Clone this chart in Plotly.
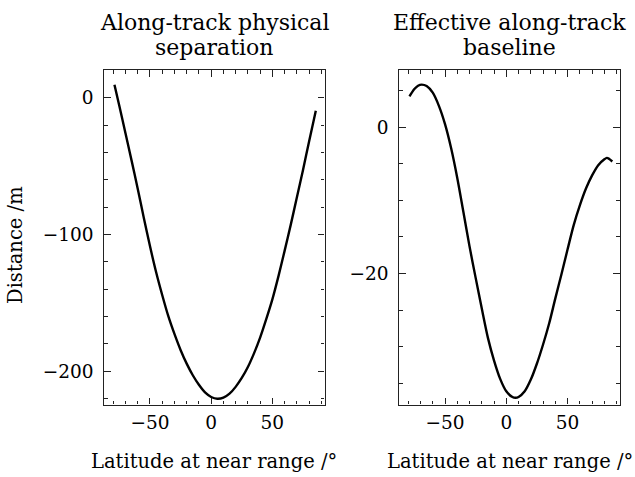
import plotly.graph_objects as go

# Latitude at near range (deg) and along-track physical separation (m)
lat_phys = [-79, -75, -70, -65, -60, -55, -50, -45, -40, -35, -30, -25, -20, -15,
            -10, -5, 0, 5, 10, 15, 20, 25, 30, 35, 40, 45, 50, 55, 60, 65, 70, 75,
            80, 85.5]
sep_phys = [9.5, -6, -26, -46, -66.5, -88, -108.5, -127.5, -144.3, -159.8, -172.8,
            -184.5, -194.5, -203, -210, -215.6, -218.9, -220.2, -219.4, -216.5,
            -211.5, -205, -197, -187, -175.5, -162, -147.5, -130.5, -112, -93,
            -73, -53, -32, -9.5]

# Latitude at near range (deg) and effective along-track baseline (m)
lat_eff = [-79, -75, -72, -69, -65, -60, -55, -50, -45, -40, -35, -30, -25, -20,
           -15, -10, -5, 0, 5, 7.5, 10, 15, 20, 25, 30, 35, 40, 45, 50, 55, 60, 65,
           70, 75, 80, 82, 84, 86.5]
base_eff = [4.2, 5.2, 5.65, 5.8, 5.6, 4.7, 2.9, 0.4, -2.9, -6.95, -11.6, -16.3,
            -20.6, -24.8, -28.8, -31.9, -34.4, -36.1, -36.88, -36.98, -36.88,
            -36.1, -34.5, -32.3, -29.7, -26.8, -23.4, -20.1, -16.7, -13.4, -10.7,
            -8.4, -6.6, -5.2, -4.4, -4.2, -4.35, -4.7]

titles = [["Along-track physical", "separation"],
          ["Effective along-track", "baseline"]]
x_label = "Latitude at near range /°"
y_label = "Distance /m"

W, H = 635, 477
FONT = "DejaVu Serif"
TICK_FS = 18.5
LABEL_FS = 19.5
TITLE_FS = 22

fig = go.Figure()
fig.add_trace(go.Scatter(x=lat_phys, y=sep_phys, mode="lines",
                         line=dict(color="black", width=2.4, shape="spline",
                                   smoothing=0.8),
                         xaxis="x", yaxis="y", showlegend=False))
fig.add_trace(go.Scatter(x=lat_eff, y=base_eff, mode="lines",
                         line=dict(color="black", width=2.4, shape="spline",
                                   smoothing=0.8),
                         xaxis="x2", yaxis="y2", showlegend=False))

def px_x(v):
    return v / W

def px_y(v):
    return 1 - v / H

dom_y = [px_y(404.5), px_y(70)]
dom_x1 = [px_x(104.3), px_x(324.5)]
dom_x2 = [px_x(399.3), px_x(619.8)]

common = dict(
    showgrid=False, zeroline=False, showline=True, linecolor="#222",
    linewidth=1.1, mirror="allticks", ticks="inside", ticklen=6.5,
    tickwidth=1.1, tickcolor="#222",
    tickfont=dict(family=FONT, size=TICK_FS, color="black"),
)
xcommon = dict(common, range=[-87.3, 92.6], tickmode="array",
               tickvals=[-50, 0, 50],
               minor=dict(ticks="inside", ticklen=3.5, tickwidth=1,
                          tickcolor="#222", dtick=10, tick0=0),
               ticklabelstandoff=1)

fig.update_layout(
    width=W, height=H, margin=dict(l=0, r=0, t=0, b=0),
    paper_bgcolor="white", plot_bgcolor="white",
    font=dict(family=FONT, size=LABEL_FS, color="black"),
    xaxis=dict(xcommon, domain=dom_x1, anchor="y"),
    yaxis=dict(common, domain=dom_y, anchor="x", range=[-224.4, 20.3],
               tickvals=[-200, -100, 0],
               minor=dict(ticks="inside", ticklen=3.5, tickwidth=1,
                          tickcolor="#222", dtick=20, tick0=0),
               ticklabelstandoff=6),
    xaxis2=dict(xcommon, domain=dom_x2, anchor="y2"),
    yaxis2=dict(common, domain=dom_y, anchor="x2", range=[-37.9, 7.8],
                tickvals=[-20, 0],
                minor=dict(ticks="inside", ticklen=3.5, tickwidth=1,
                           tickcolor="#222", dtick=5, tick0=0),
                ticklabelstandoff=6),
)

annotations = []
for lines, dom in zip(titles, [dom_x1, dom_x2]):
    cx = (dom[0] + dom[1]) / 2
    for line, yc in zip(lines, [22, 48]):
        annotations.append(dict(text=line, x=cx, y=px_y(yc), xref="paper",
                                yref="paper", xanchor="center",
                                yanchor="middle", showarrow=False,
                                font=dict(family=FONT, size=TITLE_FS)))
    annotations.append(dict(text=x_label, x=cx, y=px_y(461), xref="paper",
                            yref="paper", xanchor="center", yanchor="middle",
                            showarrow=False,
                            font=dict(family=FONT, size=LABEL_FS)))
annotations.append(dict(text=y_label, x=px_x(16), y=px_y(245), xref="paper",
                        yref="paper", xanchor="center", yanchor="middle",
                        textangle=-90, showarrow=False,
                        font=dict(family=FONT, size=LABEL_FS)))
fig.update_layout(annotations=annotations)

fig.write_html("out.html")
